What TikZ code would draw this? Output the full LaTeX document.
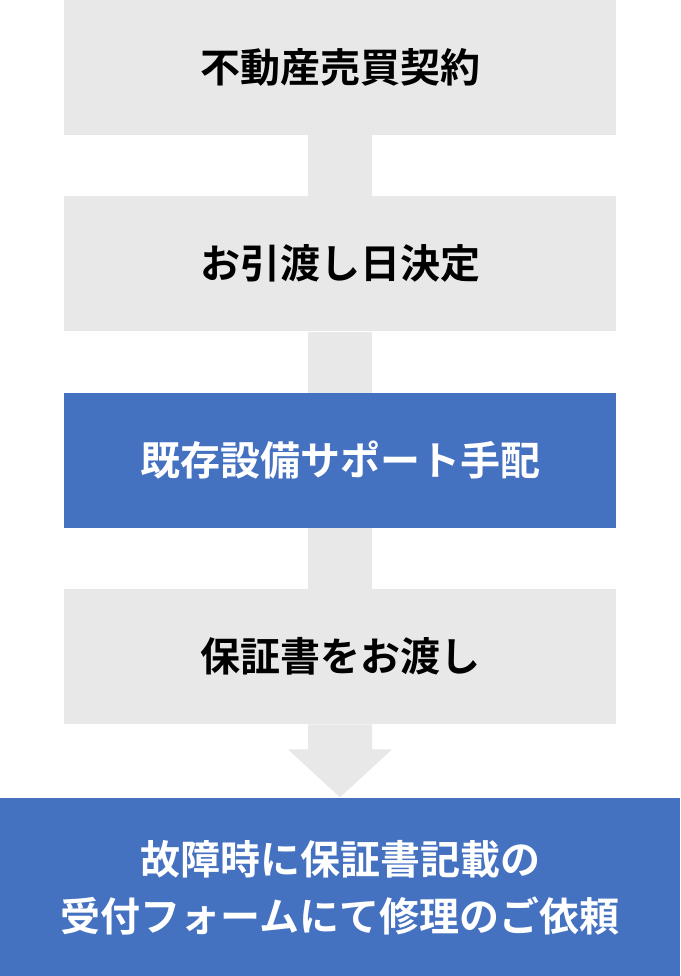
\documentclass[tikz,border=0pt]{standalone}
\usepackage{fontspec}
\newfontfamily\jpfont{Noto Sans CJK JP Bold}
\usetikzlibrary{positioning}
\definecolor{boxgray}{HTML}{E8E8E8}
\definecolor{boxblue}{HTML}{4571C1}

\begin{document}
\begin{tikzpicture}[x=1pt, y=1pt, node distance={61pt},
  main/.style = {fill=boxgray, minimum width=552pt, minimum height=135pt, inner sep=0pt, font=\jpfont\fontsize{40}{57}\selectfont},
  accent/.style = {main, fill=boxblue, text=white},
  link/.style = {fill=boxgray}]
\useasboundingbox (0,0) rectangle (680,-976);
\node[main] (1) at (340,-67.5) {不動産売買契約};
\node[main] (2) [below=of 1] {お引渡し日決定};
\node[accent] (3) [below=of 2] {既存設備サポート手配};
\node[main] (4) [below=of 3] {保証書をお渡し};
\node[accent, minimum width=680pt, minimum height=180pt, align=center] (5) [below=73pt of 4] {故障時に保証書記載の\\受付フォームにて修理のご依頼};
\fill[link] ([xshift=-32pt]1.south) rectangle ([xshift=32pt]2.north);
\fill[link] ([xshift=-32pt]2.south) rectangle ([xshift=32pt]3.north);
\fill[link] ([xshift=-32pt]3.south) rectangle ([xshift=32pt]4.north);
\fill[link] ([xshift=-32pt]4.south) |- ([xshift=-52pt, yshift=48pt]5.north) -- (5.north) -- ([xshift=52pt, yshift=48pt]5.north) -| ([xshift=32pt]4.south) -- cycle;
\end{tikzpicture}
\end{document}
